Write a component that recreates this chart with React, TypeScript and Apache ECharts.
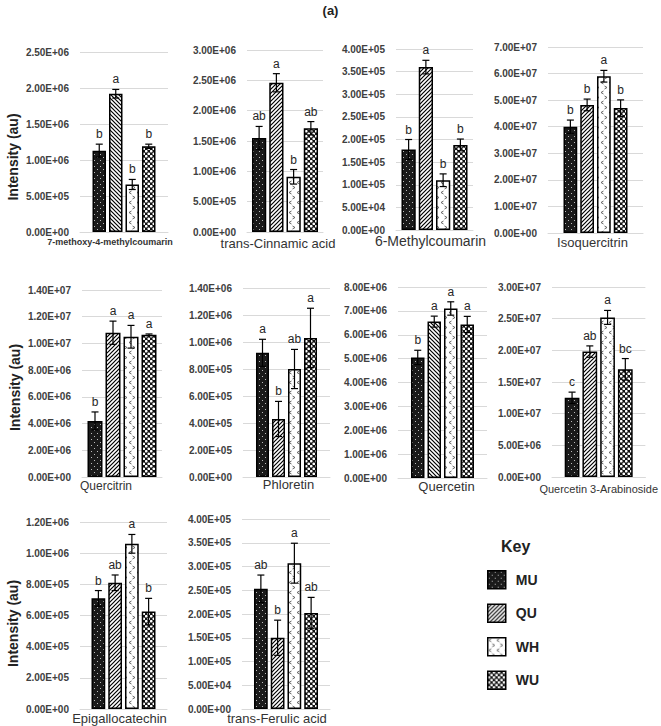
import React, { useEffect, useRef } from 'react';
import * as echarts from 'echarts';

const compounds = [
  '7-methoxy-4-methylcoumarin',
  'trans-Cinnamic acid',
  '6-Methylcoumarin',
  'Isoquercitrin',
  'Quercitrin',
  'Phloretin',
  'Quercetin',
  'Quercetin 3-Arabinoside',
  'Epigallocatechin',
  'trans-Ferulic acid',
];
const groups = ['MU', 'QU', 'WH', 'WU'];

const muMean = [1.13e6, 1.55e6, 1.78e5, 4.0e7, 4.2e6, 9.2e5, 5.05e6, 1.25e7, 7.1e5, 2.53e5];
const quMean = [1.92e6, 2.46e6, 3.6e5, 4.82e7, 1.08e7, 4.3e5, 6.55e6, 1.98e7, 8.1e5, 1.5e5];
const whMean = [6.6e5, 9.1e5, 1.1e5, 5.9e7, 1.05e7, 8.0e5, 7.1e6, 2.52e7, 1.06e6, 3.07e5];
const wuMean = [1.19e6, 1.71e6, 1.88e5, 4.7e7, 1.065e7, 1.03e6, 6.43e6, 1.7e7, 6.25e5, 2.02e5];

const muErr = [9e4, 1.9e5, 2.2e4, 2.5e6, 6.7e5, 1.0e5, 3.0e5, 9e5, 5e4, 2.9e4];
const quErr = [6e4, 1.5e5, 1.5e4, 2.2e6, 8.7e5, 1.3e5, 2.3e5, 9e5, 5e4, 3.7e4];
const whErr = [7e4, 1.2e5, 1.4e4, 2.2e6, 8.5e5, 1.45e5, 2.8e5, 1.1e6, 6e4, 4.2e4];
const wuErr = [3e4, 1.1e5, 1.3e4, 3.1e6, 6e4, 2.2e5, 3.4e5, 1.7e6, 8.5e4, 3.3e4];

const muSig = ['b', 'ab', 'b', 'b', 'b', 'a', 'b', 'c', 'b', 'ab'];
const quSig = ['a', 'a', 'a', 'b', 'a', 'b', 'a', 'ab', 'ab', 'b'];
const whSig = ['b', 'b', 'b', 'a', 'a', 'ab', 'a', 'a', 'a', 'a'];
const wuSig = ['b', 'ab', 'b', 'b', 'a', 'a', 'a', 'bc', 'b', 'ab'];

const yMax = [2.5e6, 3e6, 4e5, 7e7, 1.4e7, 1.4e6, 8e6, 3e7, 1.2e6, 4e5];
const yStep = [5e5, 5e5, 5e4, 1e7, 2e6, 2e5, 1e6, 5e6, 2e5, 5e4];

const means = [muMean, quMean, whMean, wuMean];
const errs = [muErr, quErr, whErr, wuErr];
const sigs = [muSig, quSig, whSig, wuSig];

// layout (pixels)
const panels = [
  { l: 80, r: 168, t: 52, b: 232, bw: 13.5, dx: -14, fs: 9, fw: 'bold', m: 5, name: 30, back: true },
  { l: 247, r: 323, t: 50, b: 232, bw: 14.25, dx: -7, fs: 13, fw: 'normal', m: 5, name: -1, back: false },
  { l: 396, r: 473, t: 49, b: 230, bw: 14.25, dx: -4, fs: 14, fw: 'normal', m: 4, name: -1, back: false },
  { l: 548, r: 643, t: 47, b: 233, bw: 13.75, dx: -3, fs: 13, fw: 'normal', m: 3, name: -1, back: false },
  { l: 82, r: 162, t: 290, b: 477, bw: 15, dx: -16, fs: 12, fw: 'normal', m: 3, name: 8, back: false },
  { l: 243, r: 330, t: 288, b: 477, bw: 13, dx: 2, fs: 13, fw: 'normal', m: 1, name: -1, back: false },
  { l: 398, r: 487, t: 287, b: 478, bw: 13.5, dx: 4, fs: 13, fw: 'normal', m: 2, name: -1, back: true },
  { l: 552, r: 647, t: 287, b: 477, bw: 14.75, dx: 0, fs: 11, fw: 'normal', m: 6, name: -1, back: false },
  { l: 80, r: 167, t: 522, b: 709, bw: 13.75, dx: -4, fs: 13, fw: 'normal', m: 3, name: 16, back: false },
  { l: 242, r: 330, t: 519, b: 709, bw: 13.75, dx: -9, fs: 13, fw: 'normal', m: 3, name: -1, back: false },
];
const GAP = 3;
const FONT = "'Liberation Sans', Arial, sans-serif";

function fmt(v: number) {
  if (Math.abs(v) < 1e-12) return '0.00E+00';
  let e = Math.floor(Math.log10(Math.abs(v)) + 1e-9);
  let m = v / Math.pow(10, e);
  return m.toFixed(2) + 'E' + (e < 0 ? '-' : '+') + String(Math.abs(e)).padStart(2, '0');
}

function tile(w: number, h: number, draw: (ctx: CanvasRenderingContext2D) => void) {
  const c = document.createElement('canvas');
  c.width = w;
  c.height = h;
  const ctx = c.getContext('2d') as CanvasRenderingContext2D;
  draw(ctx);
  return { image: c, repeat: 'repeat', imageWidth: w, imageHeight: h } as any;
}

function makePatterns() {
  const mu = tile(6, 6, (ctx) => {
    ctx.fillStyle = '#1a1a1a';
    ctx.fillRect(0, 0, 6, 6);
    ctx.fillStyle = '#bdbdbd';
    ctx.fillRect(1, 1, 1, 1);
    ctx.fillRect(4, 4, 1, 1);
  });
  const quF = tile(4, 4, (ctx) => {
    ctx.fillStyle = '#fff';
    ctx.fillRect(0, 0, 4, 4);
    ctx.strokeStyle = '#000';
    ctx.lineWidth = 1.2;
    ctx.beginPath();
    ctx.moveTo(-1, 5); ctx.lineTo(5, -1);
    ctx.moveTo(-1, 1); ctx.lineTo(1, -1);
    ctx.moveTo(3, 5); ctx.lineTo(5, 3);
    ctx.stroke();
  });
  const quB = tile(4, 4, (ctx) => {
    ctx.fillStyle = '#fff';
    ctx.fillRect(0, 0, 4, 4);
    ctx.strokeStyle = '#000';
    ctx.lineWidth = 1.2;
    ctx.beginPath();
    ctx.moveTo(-1, -1); ctx.lineTo(5, 5);
    ctx.moveTo(3, -1); ctx.lineTo(5, 1);
    ctx.moveTo(-1, 3); ctx.lineTo(1, 5);
    ctx.stroke();
  });
  const wh = tile(8, 10, (ctx) => {
    ctx.fillStyle = '#fff';
    ctx.fillRect(0, 0, 8, 10);
    ctx.strokeStyle = '#555';
    ctx.lineWidth = 0.9;
    ctx.beginPath();
    ctx.moveTo(3.5, 1); ctx.lineTo(1, 2.5); ctx.lineTo(3.5, 4);
    ctx.moveTo(4.5, 6); ctx.lineTo(7, 7.5); ctx.lineTo(4.5, 9);
    ctx.stroke();
  });
  const wu = tile(5, 5, (ctx) => {
    ctx.fillStyle = '#111';
    ctx.fillRect(0, 0, 5, 5);
    ctx.fillStyle = '#fff';
    ctx.beginPath();
    ctx.arc(1.25, 1.25, 1.35, 0, Math.PI * 2);
    ctx.fill();
    ctx.beginPath();
    ctx.arc(3.75, 3.75, 1.35, 0, Math.PI * 2);
    ctx.fill();
  });
  return { mu, quF, quB, wh, wu };
}

export default function App() {
  const ref = useRef<HTMLDivElement>(null);
  useEffect(() => {
    const el = ref.current;
    if (!el) return;
    const chart = echarts.init(el, null, { renderer: 'svg' });
    const P = makePatterns();

    const grid: any[] = [];
    const xAxis: any[] = [];
    const yAxis: any[] = [];
    const series: any[] = [];

    panels.forEach((p, pi) => {
      grid.push({ left: p.l, top: p.t, width: p.r - p.l, height: p.b - p.t, containLabel: false });
      const pad = p.dx < 0 ? [0, -2 * p.dx, 0, 0] : [0, 0, 0, 2 * p.dx];
      xAxis.push({
        type: 'category',
        gridIndex: pi,
        data: [compounds[pi]],
        axisTick: { show: false },
        axisLine: { lineStyle: { color: '#d9d9d9', width: 1 } },
        axisLabel: {
          fontSize: p.fs,
          fontWeight: p.fw,
          color: '#333',
          margin: p.m,
          padding: pad,
          fontFamily: FONT,
        },
      });
      yAxis.push({
        type: 'value',
        gridIndex: pi,
        min: 0,
        max: yMax[pi],
        interval: yStep[pi],
        axisLine: { show: false },
        axisTick: { show: false },
        axisLabel: { formatter: fmt, fontSize: 10, fontWeight: 'bold', color: '#404040', margin: 11, fontFamily: FONT },
        splitLine: { lineStyle: { color: '#d9d9d9', width: 1 } },
        name: p.name >= 0 ? 'Intensity (au)' : '',
        nameLocation: 'middle',
        nameGap: 60,
        nameTextStyle: {
          fontSize: 14,
          fontWeight: 'bold',
          color: '#222',
          fontFamily: FONT,
          padding: p.name >= 0 ? [0, p.name, 0, 0] : 0,
        },
      });
      const fills = [P.mu, p.back ? P.quB : P.quF, P.wh, P.wu];
      groups.forEach((g, gi) => {
        series.push({
          type: 'bar',
          name: g,
          xAxisIndex: pi,
          yAxisIndex: pi,
          data: [means[gi][pi]],
          barWidth: p.bw,
          barGap: ((GAP / p.bw) * 100).toFixed(1) + '%',
          itemStyle: { color: fills[gi], borderColor: '#000', borderWidth: 1.5 },
          emphasis: { disabled: true },
          z: 2,
        });
      });
      const bw = p.bw;
      series.push({
        type: 'custom',
        name: 'err' + pi,
        xAxisIndex: pi,
        yAxisIndex: pi,
        z: 5,
        silent: true,
        itemStyle: { color: '#262626' },
        encode: { x: 0, y: 2 },
        data: groups.map((g, gi) => [0, gi, means[gi][pi], errs[gi][pi]]),
        renderItem: (params: any, api: any) => {
          const gi = api.value(1);
          const mean = api.value(2);
          const err = api.value(3);
          const top = api.coord([0, mean + err]);
          const bot = api.coord([0, mean - err]);
          const x = top[0] + (gi - 1.5) * (bw + GAP);
          const cw = 3.5;
          const ls = { stroke: '#000', lineWidth: 1.2 };
          return {
            type: 'group',
            children: [
              { type: 'line', shape: { x1: x, y1: top[1], x2: x, y2: bot[1] }, style: ls },
              { type: 'line', shape: { x1: x - cw, y1: top[1], x2: x + cw, y2: top[1] }, style: ls },
              { type: 'line', shape: { x1: x - cw, y1: bot[1], x2: x + cw, y2: bot[1] }, style: ls },
              {
                type: 'text',
                style: {
                  text: sigs[gi][pi],
                  x: x,
                  y: top[1] - 4,
                  textAlign: 'center',
                  textVerticalAlign: 'bottom',
                  fontSize: 12,
                  fontFamily: FONT,
                  fill: '#262626',
                },
              },
            ],
          };
        },
      });
    });

    const option: any = {
      animation: false,
      backgroundColor: '#fff',
      textStyle: { fontFamily: FONT },
      title: [
        { text: '(a)', left: 'center', top: -1, textStyle: { fontSize: 13, fontWeight: 'bold', color: '#222', fontFamily: FONT } },
        { text: 'Key', left: 496, top: 533, textStyle: { fontSize: 16, fontWeight: 'bold', color: '#222', fontFamily: FONT } },
      ],
      legend: {
        orient: 'vertical',
        left: 482,
        top: 565,
        itemWidth: 18,
        itemHeight: 18,
        itemGap: 14,
        icon: 'rect',
        selectedMode: false,
        textStyle: { fontSize: 14, fontWeight: 'bold', color: '#222', padding: [0, 0, 0, 5], fontFamily: FONT },
        itemStyle: { borderColor: '#000', borderWidth: 1.5 },
        data: [
          { name: 'MU', itemStyle: { color: P.mu } },
          { name: 'QU', itemStyle: { color: P.quF } },
          { name: 'WH', itemStyle: { color: P.wh } },
          { name: 'WU', itemStyle: { color: P.wu } },
        ],
      },
      grid,
      xAxis,
      yAxis,
      series,
    };
    chart.setOption(option);
    return () => chart.dispose();
  }, []);
  return (
    <div
      ref={ref}
      style={{ position: 'fixed', left: 0, top: 0, width: 661, height: 726, background: '#fff' }}
    />
  );
}
